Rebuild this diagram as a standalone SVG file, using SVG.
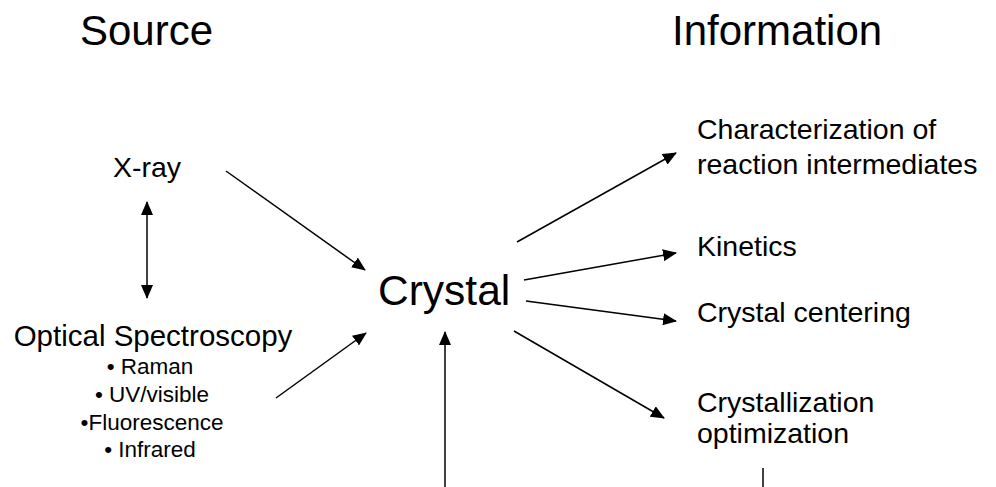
<svg xmlns="http://www.w3.org/2000/svg" width="996" height="487" viewBox="0 0 996 487">
<style>
text{font-family:"Liberation Sans",Arial,sans-serif;fill:#000}
.h{font-size:42px}
.c{font-size:42.5px}
.l{font-size:28.5px}
.o{font-size:29.5px}
.r{font-size:28.5px}
.b{font-size:22.5px}
.ln{stroke:#000;stroke-width:1.5;fill:none}
</style>
<defs>
<marker id="ah" markerUnits="userSpaceOnUse" markerWidth="14" markerHeight="12" refX="13" refY="6" orient="auto-start-reverse" viewBox="0 0 14 12">
<path d="M0,0 L14,6 L0,12 Z" fill="#000"/>
</marker>
</defs>
<g id="source"><text class="h" x="80" y="45">Source</text></g>
<g id="information"><text class="h" x="672" y="45">Information</text></g>
<g id="crystal"><text class="c" x="378" y="305">Crystal</text></g>
<g id="xray"><text class="l" x="113" y="177">X-ray</text></g>
<g id="optical">
<text class="o" x="153" y="346" text-anchor="middle">Optical Spectroscopy</text>
<text class="b" x="150" y="374" text-anchor="middle">• Raman</text>
<text class="b" x="152" y="402" text-anchor="middle">• UV/visible</text>
<text class="b" x="152" y="430" text-anchor="middle">•Fluorescence</text>
<text class="b" x="150" y="457" text-anchor="middle">• Infrared</text>
</g>
<g id="characterization">
<text class="r" x="697" y="139">Characterization of</text>
<text class="r" x="697" y="174">reaction intermediates</text>
</g>
<g id="kinetics"><text class="r" x="697" y="256">Kinetics</text></g>
<g id="centering"><text class="r" x="697" y="322">Crystal centering</text></g>
<g id="optimization">
<text class="r" x="697" y="412">Crystallization</text>
<text class="r" x="697" y="443">optimization</text>
</g>
<g id="connectors">
<line class="ln" x1="226" y1="171" x2="365" y2="270" marker-end="url(#ah)"/>
<line class="ln" x1="147" y1="202" x2="147" y2="298" marker-start="url(#ah)" marker-end="url(#ah)"/>
<line class="ln" x1="276" y1="398" x2="366" y2="333" marker-end="url(#ah)"/>
<line class="ln" x1="517" y1="242" x2="676" y2="153" marker-end="url(#ah)"/>
<line class="ln" x1="524" y1="280" x2="676" y2="253" marker-end="url(#ah)"/>
<line class="ln" x1="526" y1="301" x2="676" y2="321" marker-end="url(#ah)"/>
<line class="ln" x1="514" y1="331" x2="664" y2="418" marker-end="url(#ah)"/>
<line class="ln" x1="445" y1="487" x2="445" y2="332" marker-end="url(#ah)"/>
<line class="ln" x1="763" y1="468" x2="763" y2="487"/>
</g>
</svg>
